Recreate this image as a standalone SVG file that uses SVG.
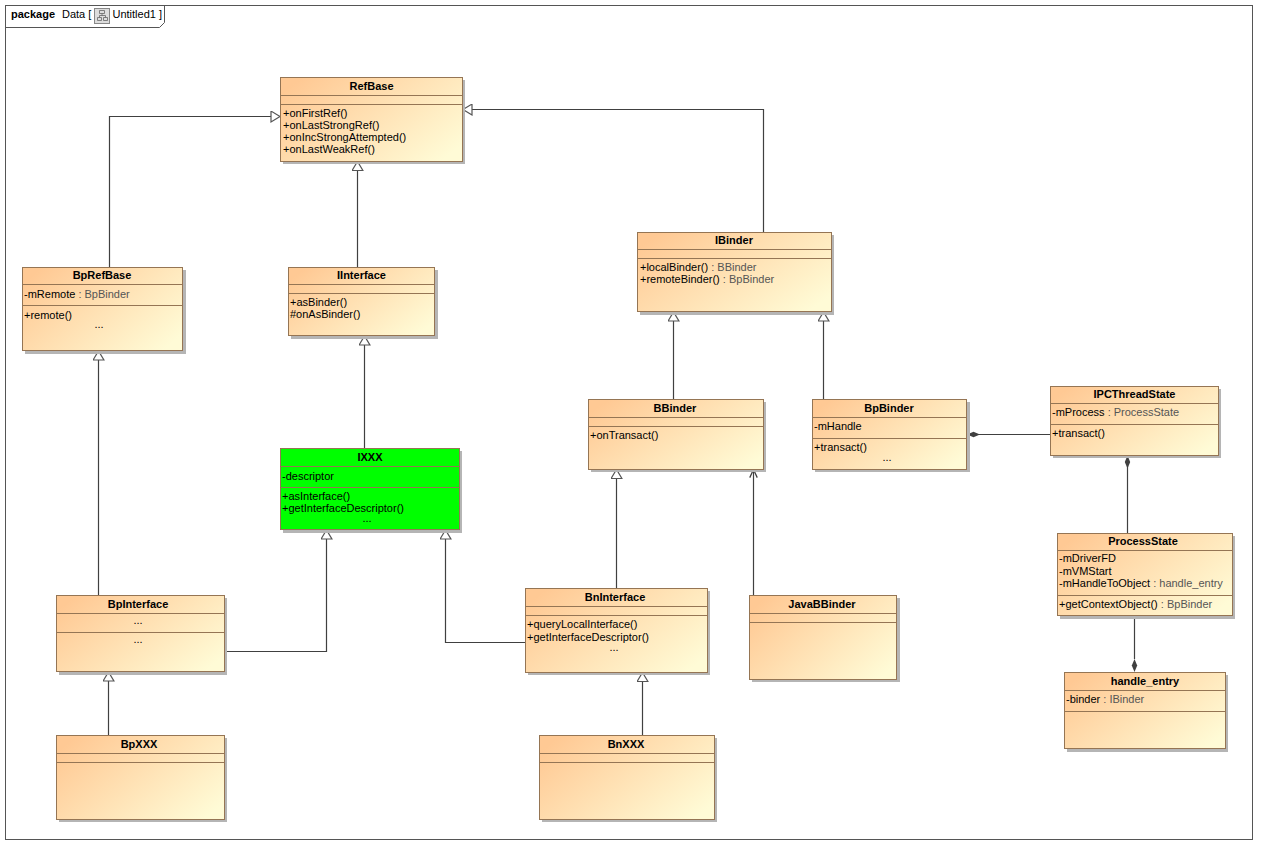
<svg xmlns="http://www.w3.org/2000/svg" width="1267" height="854" viewBox="0 0 1267 854">
<style>
text{font-family:"Liberation Sans",Arial,sans-serif;font-size:11px;fill:#000}
.n{font-weight:bold;text-anchor:middle}
.t{fill:#555}
.c{text-anchor:middle}
.box{fill:url(#g);stroke:#957554;stroke-width:1}
.green{fill:#00ff00;stroke:#957554;stroke-width:1}
.sh{fill:#b5b5b5}
.sep{stroke:#957554;stroke-width:1}
.ln{fill:none;stroke:#404040;stroke-width:1.2}
.gen{marker-end:url(#tri)}
</style>
<defs>
<linearGradient id="g" x1="0" y1="0.2" x2="1" y2="0.8">
<stop offset="0" stop-color="#ffc994"/>
<stop offset="1" stop-color="#fffbd6"/>
</linearGradient>
<marker id="tri" markerUnits="userSpaceOnUse" markerWidth="12" markerHeight="12" refX="8" refY="5" orient="auto" viewBox="0 0 10 10">
<path d="M0.5,0.5 L8,5 L0.5,9.5 z" fill="#fff" stroke="#555" stroke-width="1"/>
</marker>
<marker id="open" markerUnits="userSpaceOnUse" markerWidth="10" markerHeight="10" refX="7" refY="4" orient="auto" viewBox="0 0 8 8">
<path d="M0.5,1 L7,4 L0.5,7" fill="none" stroke="#404040" stroke-width="1"/>
</marker>
<marker id="dia" markerUnits="userSpaceOnUse" markerWidth="14" markerHeight="8" refX="0" refY="3" orient="auto" viewBox="0 0 14 6">
<path d="M0,3 L6.5,0.3 L13,3 L6.5,5.7 z" fill="#404040"/>
</marker>
</defs>
<rect x="0" y="0" width="1267" height="854" fill="#fff"/>

<g id="frame">
<rect x="5.5" y="5.5" width="1247" height="834" fill="none" stroke="#555"/>
<path d="M5.5,27.5 H159.5 L164.5,22.5 V5.5" fill="none" stroke="#555"/>
<text x="11" y="18" style="font-weight:bold">package</text>
<text x="62" y="18">Data [</text>
<rect x="94.5" y="8.5" width="15" height="15" fill="#ddd" stroke="#888"/>
<path d="M99.5,10.5 h5 v3 h-5 z M97.5,17.5 h4 v3 h-4 z M103.5,17.5 h4 v3 h-4 z M102,13.5 v2 M99.5,17.5 v-2 h6 v2" fill="none" stroke="#666" stroke-width="0.8"/>
<text x="112.5" y="18">Untitled1  ]</text>
</g>

<g id="connectors">
<path class="ln gen" d="M109.5,267 V116.5 H280"/>
<path class="ln gen" d="M357.5,267 V161.5"/>
<path class="ln gen" d="M763.5,232 V109.5 H463"/>
<path class="ln gen" d="M364.5,448 V336"/>
<path class="ln gen" d="M98.5,595 V351"/>
<path class="ln gen" d="M224,651.5 H326.5 V530"/>
<path class="ln gen" d="M525,642.5 H445.5 V530"/>
<path class="ln gen" d="M616.5,588 V469.5"/>
<path class="ln" style="marker-end:url(#open)" d="M753.5,595 V469.5"/>
<path class="ln gen" d="M673.5,399 V312"/>
<path class="ln gen" d="M823.5,399 V312"/>
<path class="ln gen" d="M108.5,735 V672"/>
<path class="ln gen" d="M642.5,735 V672.5"/>
<path class="ln" style="marker-start:url(#dia)" d="M967,434.5 H1050"/>
<path class="ln" style="marker-start:url(#dia)" d="M1127.5,455.5 V533"/>
<path class="ln" style="marker-end:url(#dia)" d="M1134.5,616 V659"/>
</g>

<g id="RefBase">
<rect class="sh" x="283" y="80" width="182" height="84"/>
<rect class="box" x="280.5" y="77.5" width="182" height="84"/>
<line class="sep" x1="280.5" y1="95.5" x2="462.5" y2="95.5"/>
<line class="sep" x1="280.5" y1="104.5" x2="462.5" y2="104.5"/>
<text class="n" x="371.5" y="90">RefBase</text>
<text x="283" y="117">+onFirstRef()</text>
<text x="283" y="129">+onLastStrongRef()</text>
<text x="283" y="141">+onIncStrongAttempted()</text>
<text x="283" y="153">+onLastWeakRef()</text>
</g>

<g id="BpRefBase">
<rect class="sh" x="25" y="270" width="161" height="84"/>
<rect class="box" x="22.5" y="267.5" width="160" height="83"/>
<line class="sep" x1="22.5" y1="284.5" x2="182.5" y2="284.5"/>
<line class="sep" x1="22.5" y1="305.5" x2="182.5" y2="305.5"/>
<text class="n" x="102" y="279">BpRefBase</text>
<text x="24" y="297.5">-mRemote <tspan class="t">: BpBinder</tspan></text>
<text x="24" y="318.5">+remote()</text>
<text class="c" x="99" y="328">...</text>
</g>

<g id="IInterface">
<rect class="sh" x="291" y="270" width="147" height="69"/>
<rect class="box" x="288.5" y="267.5" width="146" height="68"/>
<line class="sep" x1="288.5" y1="284.5" x2="434.5" y2="284.5"/>
<line class="sep" x1="288.5" y1="293.5" x2="434.5" y2="293.5"/>
<text class="n" x="361.5" y="279">IInterface</text>
<text x="290" y="306">+asBinder()</text>
<text x="290" y="318">#onAsBinder()</text>
</g>

<g id="IXXX">
<rect class="sh" x="283" y="451" width="179" height="82"/>
<rect class="green" x="280.5" y="448.5" width="179" height="81"/>
<line class="sep" x1="280.5" y1="466.5" x2="459.5" y2="466.5"/>
<line class="sep" x1="280.5" y1="487.5" x2="459.5" y2="487.5"/>
<text class="n" x="370" y="461">IXXX</text>
<text x="282" y="479.5">-descriptor</text>
<text x="282" y="499.5">+asInterface()</text>
<text x="282" y="512">+getInterfaceDescriptor()</text>
<text class="c" x="367" y="522">...</text>
</g>

<g id="IBinder">
<rect class="sh" x="640" y="235" width="194" height="80"/>
<rect class="box" x="637.5" y="232.5" width="194" height="79"/>
<line class="sep" x1="637.5" y1="249.5" x2="831.5" y2="249.5"/>
<line class="sep" x1="637.5" y1="258.5" x2="831.5" y2="258.5"/>
<text class="n" x="734" y="244">IBinder</text>
<text x="640" y="271">+localBinder() <tspan class="t">: BBinder</tspan></text>
<text x="640" y="283">+remoteBinder() <tspan class="t">: BpBinder</tspan></text>
</g>

<g id="BBinder">
<rect class="sh" x="591" y="402" width="175" height="70"/>
<rect class="box" x="588.5" y="399.5" width="175" height="70"/>
<line class="sep" x1="588.5" y1="417.5" x2="763.5" y2="417.5"/>
<line class="sep" x1="588.5" y1="426.5" x2="763.5" y2="426.5"/>
<text class="n" x="675" y="412">BBinder</text>
<text x="590" y="439">+onTransact()</text>
</g>

<g id="BpBinder">
<rect class="sh" x="815" y="402" width="155" height="70"/>
<rect class="box" x="812.5" y="399.5" width="154" height="70"/>
<line class="sep" x1="812.5" y1="417.5" x2="966.5" y2="417.5"/>
<line class="sep" x1="812.5" y1="438.5" x2="966.5" y2="438.5"/>
<text class="n" x="889" y="412">BpBinder</text>
<text x="814" y="430">-mHandle</text>
<text x="814" y="451">+transact()</text>
<text class="c" x="887" y="461">...</text>
</g>

<g id="IPCThreadState">
<rect class="sh" x="1053" y="389" width="168" height="69"/>
<rect class="box" x="1050.5" y="386.5" width="168" height="69"/>
<line class="sep" x1="1050.5" y1="403.5" x2="1218.5" y2="403.5"/>
<line class="sep" x1="1050.5" y1="424.5" x2="1218.5" y2="424.5"/>
<text class="n" x="1134.5" y="398">IPCThreadState</text>
<text x="1052" y="416">-mProcess <tspan class="t">: ProcessState</tspan></text>
<text x="1052" y="437">+transact()</text>
</g>

<g id="ProcessState">
<rect class="sh" x="1060" y="536" width="175" height="83"/>
<rect class="box" x="1057.5" y="533.5" width="175" height="82"/>
<line class="sep" x1="1057.5" y1="550.5" x2="1232.5" y2="550.5"/>
<line class="sep" x1="1057.5" y1="595.5" x2="1232.5" y2="595.5"/>
<text class="n" x="1143" y="545">ProcessState</text>
<text x="1059" y="562">-mDriverFD</text>
<text x="1059" y="575">-mVMStart</text>
<text x="1059" y="587">-mHandleToObject <tspan class="t">: handle_entry</tspan></text>
<text x="1059" y="608">+getContextObject() <tspan class="t">: BpBinder</tspan></text>
</g>

<g id="handle_entry">
<rect class="sh" x="1067" y="675" width="161" height="77"/>
<rect class="box" x="1064.5" y="672.5" width="161" height="76"/>
<line class="sep" x1="1064.5" y1="690.5" x2="1225.5" y2="690.5"/>
<line class="sep" x1="1064.5" y1="711.5" x2="1225.5" y2="711.5"/>
<text class="n" x="1145" y="685">handle_entry</text>
<text x="1066" y="703">-binder <tspan class="t">: IBinder</tspan></text>
</g>

<g id="BpInterface">
<rect class="sh" x="59" y="598" width="168" height="77"/>
<rect class="box" x="56.5" y="595.5" width="168" height="76"/>
<line class="sep" x1="56.5" y1="613.5" x2="224.5" y2="613.5"/>
<line class="sep" x1="56.5" y1="632.5" x2="224.5" y2="632.5"/>
<text class="n" x="138" y="608">BpInterface</text>
<text class="c" x="138" y="624">...</text>
<text class="c" x="138" y="643">...</text>
</g>

<g id="BpXXX">
<rect class="sh" x="59" y="738" width="168" height="84"/>
<rect class="box" x="56.5" y="735.5" width="168" height="84"/>
<line class="sep" x1="56.5" y1="753.5" x2="224.5" y2="753.5"/>
<line class="sep" x1="56.5" y1="762.5" x2="224.5" y2="762.5"/>
<text class="n" x="139" y="748">BpXXX</text>
</g>

<g id="BnInterface">
<rect class="sh" x="528" y="591" width="182" height="84"/>
<rect class="box" x="525.5" y="588.5" width="182" height="84"/>
<line class="sep" x1="525.5" y1="606.5" x2="707.5" y2="606.5"/>
<line class="sep" x1="525.5" y1="615.5" x2="707.5" y2="615.5"/>
<text class="n" x="615" y="601">BnInterface</text>
<text x="527" y="628">+queryLocalInterface()</text>
<text x="527" y="641">+getInterfaceDescriptor()</text>
<text class="c" x="614" y="651">...</text>
</g>

<g id="JavaBBinder">
<rect class="sh" x="752" y="598" width="148" height="84"/>
<rect class="box" x="749.5" y="595.5" width="147" height="84"/>
<line class="sep" x1="749.5" y1="613.5" x2="896.5" y2="613.5"/>
<line class="sep" x1="749.5" y1="622.5" x2="896.5" y2="622.5"/>
<text class="n" x="822" y="608">JavaBBinder</text>
</g>

<g id="BnXXX">
<rect class="sh" x="542" y="738" width="175" height="84"/>
<rect class="box" x="539.5" y="735.5" width="175" height="84"/>
<line class="sep" x1="539.5" y1="753.5" x2="714.5" y2="753.5"/>
<line class="sep" x1="539.5" y1="762.5" x2="714.5" y2="762.5"/>
<text class="n" x="626" y="748">BnXXX</text>
</g>
</svg>
